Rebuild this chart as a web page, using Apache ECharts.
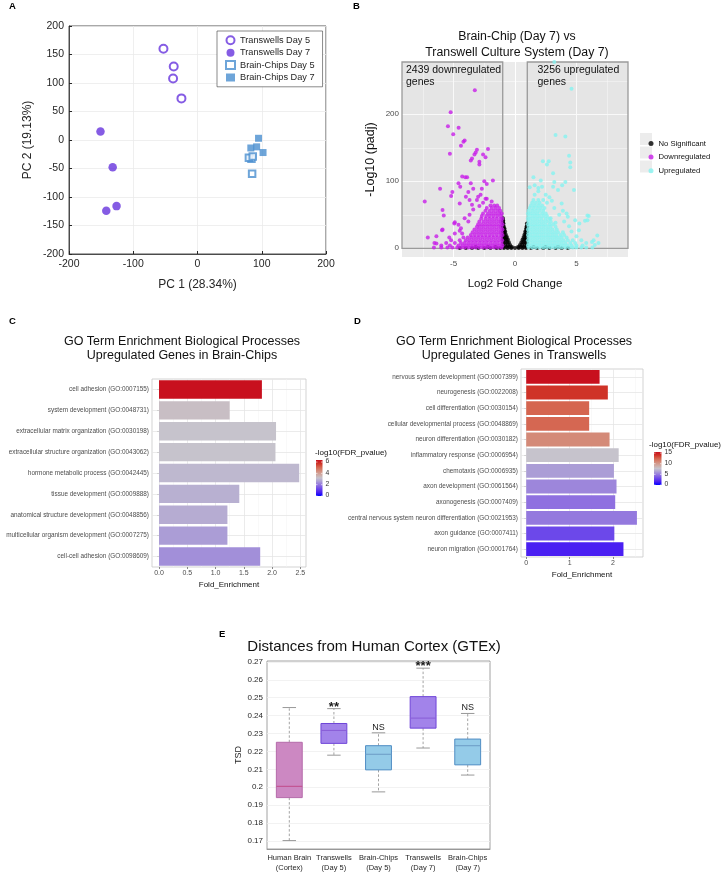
<!DOCTYPE html>
<html><head><meta charset="utf-8">
<script src="https://cdn.jsdelivr.net/npm/echarts@6/dist/echarts.min.js"></script>
<style>html,body{margin:0;padding:0;background:#fff}#c{width:726px;height:873px}</style>
</head><body><div id="c"></div>
<script>
// ================= DATA =================
// Panel A – PCA
const pcaXTicks = [-200, -100, 0, 100, 200];
const pcaYTicks = [-200, -150, -100, -50, 0, 50, 100, 150, 200];
const twDay5 = [[-53, 160], [-37, 129], [-38, 108], [-25, 73]];
const twDay7 = [[-151, 15], [-132, -48], [-142, -124], [-126, -116]];
const bcDay5 = [[85, -59], [84, -33], [80, -31], [86, -29]];
const bcDay7 = [[95, 3], [83, -14], [92, -12], [102, -22]];

// Panel B – volcano (log2FC, -log10 padj)
const volXTicks = [-5, 0, 5];
const volYTicks = [0, 100, 200];
const downCount = 2439, upCount = 3256;
const nsPts = [
[-4.5,0.5],[-4,0.5],[-3.5,0.5],[-3,0.5],[-2.5,0.5],[-2,0.5],[-1.5,0.5],[-1.2,0.5],[-0.9,0.5],[-0.6,0.5],[-0.3,0.5],[0,0.5],[0.3,0.5],[0.6,0.5],[0.9,0.5],[1.3,0.5],[1.8,0.5],[2.3,0.5],[2.8,0.5],[3.3,0.5],[3.8,0.5],[4.3,0.5],
[-3.2,2],[-2.2,2],[-1.6,2],[-0.95,2],[-0.7,2],[-0.45,2],[-0.25,2],[0.25,2],[0.45,2],[0.7,2],[0.95,2],[1.5,2],[2.5,2],[3.5,2],
[-0.97,5],[-0.78,5],[-0.58,5],[-0.4,5],[0.4,5],[0.58,5],[0.78,5],[0.97,5],
[-0.97,9],[-0.8,9],[-0.63,9],[-0.5,9],[0.52,9],[0.66,9],[0.82,9],[0.97,9],
[-0.98,13],[-0.83,13],[-0.7,13],[-0.58,13],[0.62,13],[0.75,13],[0.88,13],[0.98,13],
[-0.98,17],[-0.86,17],[-0.74,17],[-0.66,17],[0.7,17],[0.82,17],[0.94,17],
[-0.98,21],[-0.87,21],[-0.76,21],[0.78,21],[0.88,21],[0.97,21],
[-0.98,25],[-0.88,25],[-0.8,25],[0.84,25],[0.93,25],[0.98,25],
[-0.98,29],[-0.9,29],[-0.85,29],[0.9,29],[0.97,29],
[-0.98,33],[-0.92,33],[0.95,33],[0.99,33],
[-0.98,37],[-0.94,37],[0.97,37],
[-0.99,41],[-0.96,41],[-0.98,45]
];
const downPts = [
[-3.27,236],[-5.24,203],[-5.46,182],[-4.59,180],[-5.03,170],[-4.1,161],[-4.2,159],[-4.4,153],[-3.1,147],[-2.2,148],[-5.3,141],[-3.3,140],[-3.2,143],[-2.6,140],[-2.4,136],[-3.6,131],[-3.5,134],[-2.9,129],[-2.9,125],[-4.3,107],[-4.05,106],[-3.9,106],[-2.5,100],[-1.8,101],[-2.3,96],[-4.6,97],[-6.1,89],[-7.35,70],[-4.46,92],[-5.1,84],[-3.8,84],[-4.0,77],[-4.5,67],[-5.9,57],[-5.8,49],[-4.9,39],[-5.9,28],[-7.1,16],[-6.4,7],[-5.35,16],[-4.3,22],
[-3.6,97],[-3.4,89],[-2.7,89],[-5.2,78],[-3.7,72],[-3.0,77],[-2.4,74],[-4.5,26],[-6.56,8],[-5.94,27],[-4.94,37],[-6.4,18],
[-3.7,50],[-4.1,45],[-3.4,58],[-2.9,63],[-2.6,68],[-3.1,72],[-4.4,30],[-4.9,22],[-5.2,12],[-5.6,8],[-6.0,4],[-2.3,74],[-1.9,70],[-3.8,40],[-4.6,35],[-2.8,80],[-3.5,65],
[-6.6,1],[-6.0,1],[-5.5,1],[-5.1,1],[-4.7,1],[-4.4,1],[-4.1,1],[-3.8,1],[-3.5,1],[-3.2,1],[-2.9,1],[-2.6,1],[-2.3,1],[-2.0,1],[-1.7,1],[-1.4,1],[-1.1,1],
[-5.3,4],[-4.6,4],[-4.25,4],[-3.95,4],[-3.65,4],[-3.35,4],[-3.05,4],[-2.75,4],[-2.45,4],[-2.15,4],[-1.85,4],[-1.55,4],[-1.25,4],[-1.02,4],
[-4.9,8],[-4.4,8],[-4.1,8],[-3.8,8],[-3.5,8],[-3.2,8],[-2.9,8],[-2.6,8],[-2.3,8],[-2.0,8],[-1.7,8],[-1.4,8],[-1.1,8],
[-4.5,12],[-4.0,12],[-3.7,12],[-3.4,12],[-3.1,12],[-2.8,12],[-2.5,12],[-2.2,12],[-1.9,12],[-1.6,12],[-1.3,12],[-1.05,12],
[-4.2,16],[-3.85,16],[-3.55,16],[-3.25,16],[-2.95,16],[-2.65,16],[-2.35,16],[-2.05,16],[-1.75,16],[-1.45,16],[-1.15,16],
[-3.6,20],[-3.3,20],[-3.0,20],[-2.7,20],[-2.4,20],[-2.1,20],[-1.8,20],[-1.5,20],[-1.2,20],[-1.02,20],
[-3.45,24],[-3.15,24],[-2.85,24],[-2.55,24],[-2.25,24],[-1.95,24],[-1.65,24],[-1.35,24],[-1.1,24],
[-3.3,28],[-3.0,28],[-2.7,28],[-2.4,28],[-2.1,28],[-1.8,28],[-1.5,28],[-1.2,28],[-1.02,28],
[-3.1,32],[-2.85,32],[-2.55,32],[-2.25,32],[-1.95,32],[-1.65,32],[-1.35,32],[-1.1,32],
[-3.0,36],[-2.7,36],[-2.4,36],[-2.1,36],[-1.8,36],[-1.5,36],[-1.2,36],[-1.02,36],
[-2.9,40],[-2.55,40],[-2.25,40],[-1.95,40],[-1.65,40],[-1.35,40],[-1.1,40],
[-2.75,44],[-2.4,44],[-2.1,44],[-1.8,44],[-1.5,44],[-1.2,44],[-1.03,44],
[-2.7,48],[-2.35,48],[-2.05,48],[-1.75,48],[-1.45,48],[-1.15,48],
[-2.6,52],[-2.2,52],[-1.9,52],[-1.6,52],[-1.3,52],[-1.08,52],
[-2.4,56],[-2.05,56],[-1.75,56],[-1.45,56],[-1.2,56],
[-2.3,60],[-1.9,60],[-1.6,60],[-1.3,60],
[-2.0,64],[-1.7,64],[-1.45,64]
];
const upPts = [
[3.2,278],[4.6,238],[3.3,169],[4.1,167],[4.4,138],[4.5,128],[4.5,121],[2.75,130],[2.27,130],[2.6,125],[4.8,87],[4.1,99],[2.1,101],[3.2,99],[1.5,106],[1.2,91],[3.5,87],[5.9,49],[5.9,42],[5.2,27],[6.4,12],[6.7,19],[6.5,5],[4.9,42],[3.8,67],[4.2,52],
[3.1,112],[3.84,94],[1.6,94],[1.9,90],[3.1,92],[6.27,9.5],[6.8,8],[6.0,48],[5.24,37],[5.7,41],
[3.2,60],[2.8,76],[3.6,50],[4.0,40],[4.4,33],[3.9,56],[2.5,80],[1.6,80],[2.9,45],[3.3,38],[4.6,25],[5.0,18],[5.4,12],[5.8,8],[4.3,47],[1.9,85],[3.0,71],[2.2,92],
[1.1,1],[1.4,1],[1.7,1],[2.0,1],[2.3,1],[2.6,1],[2.9,1],[3.2,1],[3.5,1],[3.8,1],[4.1,1],[4.4,1],[4.7,1],[5.0,1],[5.4,1],[5.8,1],[6.3,1],
[1.05,4],[1.25,4],[1.55,4],[1.85,4],[2.15,4],[2.45,4],[2.75,4],[3.05,4],[3.35,4],[3.65,4],[3.95,4],[4.25,4],[4.6,4],[5.0,4],[5.5,4],
[1.1,8],[1.4,8],[1.7,8],[2.0,8],[2.3,8],[2.6,8],[2.9,8],[3.2,8],[3.5,8],[3.8,8],[4.1,8],[4.5,8],[4.9,8],
[1.05,12],[1.25,12],[1.55,12],[1.85,12],[2.15,12],[2.45,12],[2.75,12],[3.05,12],[3.35,12],[3.65,12],[3.95,12],[4.3,12],[4.7,12],
[1.1,16],[1.4,16],[1.7,16],[2.0,16],[2.3,16],[2.6,16],[2.9,16],[3.2,16],[3.5,16],[3.8,16],[4.2,16],
[1.05,20],[1.25,20],[1.55,20],[1.85,20],[2.15,20],[2.45,20],[2.75,20],[3.05,20],[3.35,20],[3.7,20],[4.0,20],
[1.1,24],[1.4,24],[1.7,24],[2.0,24],[2.3,24],[2.6,24],[2.9,24],[3.2,24],[3.5,24],[3.9,24],
[1.05,28],[1.25,28],[1.55,28],[1.85,28],[2.15,28],[2.45,28],[2.75,28],[3.05,28],[3.4,28],
[1.1,32],[1.4,32],[1.7,32],[2.0,32],[2.3,32],[2.6,32],[2.9,32],[3.3,32],
[1.05,36],[1.25,36],[1.55,36],[1.85,36],[2.15,36],[2.45,36],[2.8,36],[3.1,36],
[1.1,40],[1.4,40],[1.7,40],[2.0,40],[2.3,40],[2.6,40],[2.9,40],
[1.05,44],[1.25,44],[1.55,44],[1.85,44],[2.15,44],[2.5,44],[2.8,44],
[1.1,48],[1.4,48],[1.7,48],[2.0,48],[2.3,48],[2.6,48],
[1.05,52],[1.25,52],[1.55,52],[1.85,52],[2.2,52],[2.5,52],
[1.1,56],[1.4,56],[1.7,56],[2.0,56],[2.3,56],
[1.2,60],[1.5,60],[1.8,60],[2.1,60],[2.4,60],
[1.3,64],[1.6,64],[1.9,64],[2.2,64],
[1.4,68],[1.7,68],[2.0,68],[2.6,68],
[1.5,72],[1.9,72],[2.3,72]
];

// Panel C – GO terms up in Brain-Chips
const cTerms = ['cell adhesion (GO:0007155)','system development (GO:0048731)','extracellular matrix organization (GO:0030198)','extracellular structure organization (GO:0043062)','hormone metabolic process (GO:0042445)','tissue development (GO:0009888)','anatomical structure development (GO:0048856)','multicellular organism development (GO:0007275)','cell-cell adhesion (GO:0098609)'];
const cFold = [1.82, 1.25, 2.07, 2.06, 2.48, 1.42, 1.21, 1.21, 1.79];
const cFdr = [6.36, 3.3, 3.18, 3.18, 2.99, 2.86, 2.8, 2.54, 2.35];
const cXTicks = [0, 0.5, 1, 1.5, 2, 2.5];
const cFdrTicks = [0, 2, 4, 6];

// Panel D – GO terms up in Transwells
const dTerms = ['nervous system development (GO:0007399)','neurogenesis (GO:0022008)','cell differentiation (GO:0030154)','cellular developmental process (GO:0048869)','neuron differentiation (GO:0030182)','inflammatory response (GO:0006954)','chemotaxis (GO:0006935)','axon development (GO:0061564)','axonogenesis (GO:0007409)','central nervous system neuron differentiation (GO:0021953)','axon guidance (GO:0007411)','neuron migration (GO:0001764)'];
const dFold = [1.69, 1.88, 1.45, 1.45, 1.92, 2.13, 2.02, 2.08, 2.05, 2.55, 2.03, 2.24];
const dFdr = [15.5, 13.95, 12.4, 12.3, 10.85, 7.75, 6.2, 5.4, 4.65, 4.95, 3.1, 1.55];
const dXTicks = [0, 1, 2];
const dFdrTicks = [0, 5, 10, 15];

// Panel E – TSD box plots
const eGroups = ['Human Brain\n(Cortex)', 'Transwells\n(Day 5)', 'Brain-Chips\n(Day 5)', 'Transwells\n(Day 7)', 'Brain-Chips\n(Day 7)'];
const eMin = [0.1702, 0.2179, 0.1974, 0.2219, 0.2068];
const eQ1  = [0.1942, 0.2245, 0.2097, 0.2330, 0.2125];
const eMed = [0.2005, 0.2317, 0.2184, 0.2386, 0.2232];
const eQ3  = [0.2251, 0.2356, 0.2232, 0.2506, 0.2269];
const eMax = [0.2445, 0.2439, 0.2304, 0.2665, 0.2412];
const eSig = ['', '**', 'NS', '***', 'NS'];
const eYTicks = [0.17, 0.18, 0.19, 0.2, 0.21, 0.22, 0.23, 0.24, 0.25, 0.26, 0.27];

// ================= STYLE =================
const FF = 'Liberation Sans, Arial, sans-serif';
const purple = '#6633dd', blue = '#4a8fd0';
const fdrStops = ['#0000ff','#4a1ff2','#6c48ea','#8f70e0','#ab9dd6','#c6c3cc','#d0a8a0','#d48a78','#d5654f','#cf3328','#c8101e'];
const boxStyle = [
  {fill:'#cc88c2', stroke:'#b46aaa', med:'#c2508e'},
  {fill:'#a283ea', stroke:'#6f45d8', med:'#8a5fd8'},
  {fill:'#94cbe8', stroke:'#4f8dc4', med:'#6f9fc8'},
  {fill:'#a283ea', stroke:'#6f45d8', med:'#8a5fd8'},
  {fill:'#94cbe8', stroke:'#4f8dc4', med:'#6f9fc8'}
];
const volDot = 4;

const chart = echarts.init(document.getElementById('c'), null, {width:726, height:873});

function lineMarks(xs, ys, style){
  return {silent:true, z:1, symbol:['none','none'], label:{show:false}, lineStyle:style, animation:false,
    data:[...xs.map(v=>({xAxis:v})), ...ys.map(v=>({yAxis:v}))]};
}
function helper(xi, style, xs, ys, extra){
  return Object.assign({type:'line', xAxisIndex:xi, yAxisIndex:xi, data:[], z:1, silent:true,
    markLine: lineMarks(xs, ys, style)}, extra||{});
}
const lbl = (s,c)=>({fontFamily:FF, fontSize:s, color:c||'#262626'});

function colorbar(x, y, w, h, max, ticks){
  const stops = fdrStops.map((c,i)=>({offset:i/(fdrStops.length-1), color:c}));
  const out = [{type:'rect', left:x, top:y, shape:{width:w, height:h},
    style:{fill:{type:'linear', x:0, y:1, x2:0, y2:0, colorStops:stops}}}];
  ticks.forEach(t=>{
    const ty = y + h - t/max*h;
    out.push({type:'text', left:x+w+3, top:ty-4, style:{text:String(t), fontFamily:FF, fontSize:6.8, fill:'#333'}});
    out.push({type:'line', shape:{x1:x, y1:ty, x2:x+1.5, y2:ty}, style:{stroke:'#fff', lineWidth:0.6}});
    out.push({type:'line', shape:{x1:x+w-1.5, y1:ty, x2:x+w, y2:ty}, style:{stroke:'#fff', lineWidth:0.6}});
  });
  return out;
}

function renderBox(params, api){
  const i = api.value(0);
  const pMin = api.coord([i, api.value(1)]);
  const pQ1 = api.coord([i, api.value(2)]);
  const pMed = api.coord([i, api.value(3)]);
  const pQ3 = api.coord([i, api.value(4)]);
  const pMax = api.coord([i, api.value(5)]);
  const bw = api.size([1, 0])[0] * 0.58;
  const cw = bw * 0.52;
  const x = pMed[0];
  const st = boxStyle[i];
  const wh = {stroke:'#8c8c8c', lineWidth:0.8, lineDash:[2.5,2]};
  const cap = {stroke:'#8c8c8c', lineWidth:0.9};
  const sig = eSig[i];
  const stars = sig.indexOf('*') >= 0;
  return {type:'group', children:[
    {type:'line', shape:{x1:x, y1:pQ3[1], x2:x, y2:pMax[1]}, style:wh},
    {type:'line', shape:{x1:x, y1:pQ1[1], x2:x, y2:pMin[1]}, style:wh},
    {type:'line', shape:{x1:x-cw/2, y1:pMax[1], x2:x+cw/2, y2:pMax[1]}, style:cap},
    {type:'line', shape:{x1:x-cw/2, y1:pMin[1], x2:x+cw/2, y2:pMin[1]}, style:cap},
    {type:'rect', shape:{x:x-bw/2, y:pQ3[1], width:bw, height:pQ1[1]-pQ3[1]}, style:{fill:st.fill, stroke:st.stroke, lineWidth:1}},
    {type:'line', shape:{x1:x-bw/2, y1:pMed[1], x2:x+bw/2, y2:pMed[1]}, style:{stroke:st.med, lineWidth:1.1}},
    {type:'text', style:{text:sig, x:x, y: stars ? pMax[1]+5 : pMax[1]-1, align:'center', verticalAlign:'bottom',
      fontFamily:FF, fontSize: stars ? 13 : 9, fontWeight: stars ? 'bold' : 'normal', fill:'#1a1a1a'}}
  ]};
}

const titleText = (s)=>({fontFamily:FF, fontSize:s, fontWeight:'normal', color:'#111'});

const option = {
  animation:false,
  textStyle:{fontFamily:FF},
  title:[
    {text:'Brain-Chip (Day 7) vs\nTranswell Culture System (Day 7)', left:517, top:29, padding:0, textAlign:'center',
      textStyle:Object.assign(titleText(12.3), {lineHeight:15.7})},
    {text:'GO Term Enrichment Biological Processes\nUpregulated Genes in Brain-Chips', left:182, top:335, padding:0, textAlign:'center',
      textStyle:Object.assign(titleText(12.5), {lineHeight:13.6})},
    {text:'GO Term Enrichment Biological Processes\nUpregulated Genes in Transwells', left:514, top:335, padding:0, textAlign:'center',
      textStyle:Object.assign(titleText(12.5), {lineHeight:13.6})},
    {text:'Distances from Human Cortex (GTEx)', left:374, top:639, padding:0, textAlign:'center',
      textStyle:titleText(15)}
  ],
  grid:[
    {left:69, top:26, width:257, height:228, show:true, borderColor:'#262626', borderWidth:0.8},
    {left:402, top:62, width:226, height:195, show:true, backgroundColor:'#ebebeb', borderWidth:0},
    {left:152, top:379, width:154, height:188, show:true, borderColor:'#c8c8c8', borderWidth:0.8},
    {left:521, top:369, width:122, height:188, show:true, borderColor:'#c8c8c8', borderWidth:0.8},
    {left:267, top:661, width:223, height:190, show:true, borderColor:'#8a8a8a', borderWidth:0.8}
  ],
  xAxis:[
    {gridIndex:0, type:'value', min:pcaXTicks[0], max:pcaXTicks[pcaXTicks.length-1], interval:100,
      name:'PC 1 (28.34%)', nameLocation:'middle', nameGap:25, nameTextStyle:lbl(12),
      axisLine:{onZero:false, lineStyle:{color:'#262626', width:0.8}}, axisTick:{inside:true, length:3, lineStyle:{color:'#262626'}},
      axisLabel:Object.assign(lbl(10.5), {margin:5}), splitLine:{lineStyle:{color:'#ebebeb', width:0.8}}},
    {gridIndex:1, type:'value', min:-9.2, max:9.2,
      name:'Log2 Fold Change', nameLocation:'middle', nameGap:21, nameTextStyle:lbl(11.5,'#111'),
      axisLine:{show:false}, axisTick:{show:true, length:2.5, customValues:volXTicks, lineStyle:{color:'#4d4d4d'}},
      axisLabel:Object.assign(lbl(8,'#4d4d4d'), {customValues:volXTicks, margin:3}), splitLine:{show:false}},
    {gridIndex:2, type:'value', min:-0.124, max:2.6,
      name:'Fold_Enrichment', nameLocation:'middle', nameGap:14, nameTextStyle:lbl(8,'#111'),
      axisLine:{show:false}, axisTick:{show:true, length:2, customValues:cXTicks, lineStyle:{color:'#888'}},
      axisLabel:Object.assign(lbl(7,'#4d4d4d'), {customValues:cXTicks, margin:3, formatter:v=>v.toFixed(1)}), splitLine:{show:false}},
    {gridIndex:3, type:'value', min:-0.12, max:2.69,
      name:'Fold_Enrichment', nameLocation:'middle', nameGap:14, nameTextStyle:lbl(8,'#111'),
      axisLine:{show:false}, axisTick:{show:true, length:2, customValues:dXTicks, lineStyle:{color:'#888'}},
      axisLabel:Object.assign(lbl(7,'#4d4d4d'), {customValues:dXTicks, margin:3}), splitLine:{show:false}},
    {gridIndex:4, type:'category', data:eGroups,
      axisLine:{lineStyle:{color:'#8a8a8a', width:0.8}}, axisTick:{inside:true, length:3, alignWithLabel:true, lineStyle:{color:'#8a8a8a'}},
      axisLabel:Object.assign(lbl(7.5), {margin:4, lineHeight:10, interval:0}), splitLine:{show:false}}
  ],
  yAxis:[
    {gridIndex:0, type:'value', min:pcaYTicks[0], max:pcaYTicks[pcaYTicks.length-1], interval:50,
      name:'PC 2 (19.13%)', nameLocation:'middle', nameGap:35, nameRotate:90, nameTextStyle:lbl(12),
      axisLine:{onZero:false, lineStyle:{color:'#262626', width:0.8}}, axisTick:{inside:true, length:3, lineStyle:{color:'#262626'}},
      axisLabel:Object.assign(lbl(10.5), {margin:5}), splitLine:{lineStyle:{color:'#ebebeb', width:0.8}}},
    {gridIndex:1, type:'value', min:-13, max:278,
      name:'-Log10 (padj)', nameLocation:'middle', nameGap:25, nameRotate:90, nameTextStyle:lbl(12.5,'#111'),
      axisLine:{show:false}, axisTick:{show:true, length:2.5, customValues:volYTicks, lineStyle:{color:'#4d4d4d'}},
      axisLabel:Object.assign(lbl(8,'#4d4d4d'), {customValues:volYTicks, margin:3}), splitLine:{show:false}},
    {gridIndex:2, type:'category', data:cTerms, inverse:true,
      axisLine:{show:false}, axisTick:{show:true, length:2, alignWithLabel:true, lineStyle:{color:'#888'}},
      axisLabel:Object.assign(lbl(6.4,'#4d4d4d'), {margin:3, interval:0}), splitLine:{show:false}},
    {gridIndex:3, type:'category', data:dTerms, inverse:true,
      axisLine:{show:false}, axisTick:{show:true, length:2, alignWithLabel:true, lineStyle:{color:'#888'}},
      axisLabel:Object.assign(lbl(6.4,'#4d4d4d'), {margin:3, interval:0}), splitLine:{show:false}},
    {gridIndex:4, type:'value', min:0.1655, max:0.2705,
      name:'TSD', nameLocation:'middle', nameGap:24, nameRotate:90, nameTextStyle:lbl(9),
      axisLine:{lineStyle:{color:'#8a8a8a', width:0.8}}, axisTick:{inside:true, length:3, customValues:eYTicks, lineStyle:{color:'#8a8a8a'}},
      axisLabel:Object.assign(lbl(8), {customValues:eYTicks, margin:4}), splitLine:{show:false}}
  ],
  visualMap:[
    {type:'continuous', show:false, seriesIndex:13, dimension:2, min:0, max:6.36, inRange:{color:fdrStops}},
    {type:'continuous', show:false, seriesIndex:15, dimension:2, min:0, max:15.5, inRange:{color:fdrStops}}
  ],
  legend:[
    {data:['Transwells Day 5','Transwells Day 7','Brain-Chips Day 5','Brain-Chips Day 7'], orient:'vertical',
      left:217, top:31, itemWidth:9, itemHeight:8, itemGap:1.8, padding:[4,8,4,8],
      backgroundColor:'#fff', borderColor:'#3a3a3a', borderWidth:0.6,
      textStyle:{fontFamily:FF, fontSize:9.2, color:'#262626', lineHeight:10.6}},
    {data:['No Significant','Downregulated','Upregulated'], orient:'vertical', icon:'circle',
      left:643.5, top:133.5, itemWidth:5, itemHeight:5, itemGap:3.6,
      textStyle:{fontFamily:FF, fontSize:7.7, color:'#111', lineHeight:10}}
  ],
  graphic:[
    {type:'text', left:9, top:1, style:{text:'A', fontFamily:FF, fontSize:9.5, fontWeight:'bold', fill:'#000'}},
    {type:'text', left:353, top:1, style:{text:'B', fontFamily:FF, fontSize:9.5, fontWeight:'bold', fill:'#000'}},
    {type:'text', left:9, top:316, style:{text:'C', fontFamily:FF, fontSize:9.5, fontWeight:'bold', fill:'#000'}},
    {type:'text', left:354, top:316, style:{text:'D', fontFamily:FF, fontSize:9.5, fontWeight:'bold', fill:'#000'}},
    {type:'text', left:219, top:629, style:{text:'E', fontFamily:FF, fontSize:9.5, fontWeight:'bold', fill:'#000'}},
    {type:'text', left:406, top:64, z:10, style:{text:downCount+' downregulated\ngenes', fontFamily:FF, fontSize:10.5, lineHeight:12.4, fill:'#111'}},
    {type:'text', left:537.5, top:64, z:10, style:{text:upCount+' upregulated\ngenes', fontFamily:FF, fontSize:10.5, lineHeight:12.4, fill:'#111'}},
    {type:'rect', left:640, top:133, z:-1, shape:{width:12, height:12}, style:{fill:'#ececec'}},
    {type:'rect', left:640, top:146.5, z:-1, shape:{width:12, height:12}, style:{fill:'#ececec'}},
    {type:'rect', left:640, top:160.5, z:-1, shape:{width:12, height:12}, style:{fill:'#ececec'}},
    {type:'text', left:315, top:449, style:{text:'-log10(FDR_pvalue)', fontFamily:FF, fontSize:8, fill:'#111'}},
    {type:'text', left:649, top:441, style:{text:'-log10(FDR_pvalue)', fontFamily:FF, fontSize:8, fill:'#111'}},
    ...colorbar(316, 460, 6.5, 36, 6.36, cFdrTicks),
    ...colorbar(654, 452, 7.5, 33, 15.5, dFdrTicks)
  ],
  series:[
    // 0-3 PCA
    {type:'scatter', name:'Transwells Day 5', xAxisIndex:0, yAxisIndex:0, data:twDay5, symbol:'emptyCircle', symbolSize:8,
      itemStyle:{color:purple, borderColor:purple, borderWidth:1.3}},
    {type:'scatter', name:'Transwells Day 7', xAxisIndex:0, yAxisIndex:0, data:twDay7, symbol:'circle', symbolSize:8.5,
      itemStyle:{color:purple}},
    {type:'scatter', name:'Brain-Chips Day 5', xAxisIndex:0, yAxisIndex:0, data:bcDay5, symbol:'emptyRect', symbolSize:6.5,
      itemStyle:{color:blue, borderColor:blue, borderWidth:1.2}},
    {type:'scatter', name:'Brain-Chips Day 7', xAxisIndex:0, yAxisIndex:0, data:bcDay7, symbol:'rect', symbolSize:7,
      itemStyle:{color:blue}},
    // 4-5 volcano grid lines and rectangles
    helper(1, {color:'#ffffff', width:0.5, type:'solid'}, [-7.5,-2.5,2.5,7.5], [50,150,250]),
    helper(1, {color:'#ffffff', width:1.1, type:'solid'}, volXTicks, volYTicks, {
      markArea:{silent:true, z:2, itemStyle:{color:'rgba(0,0,0,0.025)', borderColor:'#9a9a9a', borderWidth:1.3},
        data:[[{coord:[-9.2, 0]}, {coord:[-1, 278]}], [{coord:[1, 0]}, {coord:[9.2, 278]}]]}}),
    // 6-8 volcano points
    {type:'scatter', name:'No Significant', xAxisIndex:1, yAxisIndex:1, data:nsPts, symbolSize:volDot, z:3, itemStyle:{color:'#000'}},
    {type:'scatter', name:'Downregulated', xAxisIndex:1, yAxisIndex:1, data:downPts, symbolSize:volDot, z:3, itemStyle:{color:'#c81ee8'}},
    {type:'scatter', name:'Upregulated', xAxisIndex:1, yAxisIndex:1, data:upPts, symbolSize:volDot, z:3, itemStyle:{color:'#86f3f0'}},
    // 9-12 C/D grid lines
    helper(2, {color:'#f3f3f3', width:0.5, type:'solid'}, [0.25,0.75,1.25,1.75,2.25], []),
    helper(2, {color:'#e6e6e6', width:0.8, type:'solid'}, cXTicks, cTerms),
    helper(3, {color:'#f3f3f3', width:0.5, type:'solid'}, [0.5,1.5,2.5], []),
    helper(3, {color:'#e6e6e6', width:0.8, type:'solid'}, dXTicks, dTerms),
    // 13 C bars
    {type:'bar', xAxisIndex:2, yAxisIndex:2, z:3, barCategoryGap:'12%',
      data:cTerms.map((t,i)=>[cFold[i], t, cFdr[i]]), encode:{x:0, y:1}},
    // 14 E grid lines
    helper(4, {color:'#efefef', width:0.8, type:'solid'}, [], eYTicks),
    // 15 D bars
    {type:'bar', xAxisIndex:3, yAxisIndex:3, z:3, barCategoryGap:'12%',
      data:dTerms.map((t,i)=>[dFold[i], t, dFdr[i]]), encode:{x:0, y:1}},
    // 16 E boxes
    {type:'custom', xAxisIndex:4, yAxisIndex:4, z:3, renderItem:renderBox,
      data:eGroups.map((g,i)=>[i, eMin[i], eQ1[i], eMed[i], eQ3[i], eMax[i]]), encode:{x:0, y:[1,2,3,4,5]}}
  ]
};
chart.setOption(option);
</script>
</body></html>
